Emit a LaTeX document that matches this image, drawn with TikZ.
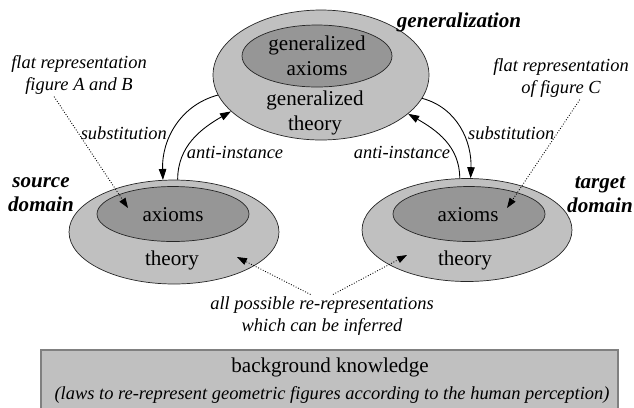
\documentclass[tikz,border=0pt]{standalone}
\usepackage{fontspec}
\setmainfont{Liberation Serif}
\usetikzlibrary{arrows.meta,shapes.geometric}
\definecolor{outergray}{RGB}{192,192,192}
\definecolor{innergray}{RGB}{150,150,150}
\definecolor{boxedge}{RGB}{128,128,128}

\begin{document}
\begin{tikzpicture}[x=0.02cm,y=-0.02cm,
  outer/.style={ellipse,draw=black!85,fill=outergray,line width=0.4pt,inner sep=0pt},
  inner/.style={ellipse,draw=black!85,fill=innergray,line width=0.4pt,inner sep=0pt},
  txt/.style={align=center,inner sep=1pt,font=\fontsize{12}{14.2}\selectfont},
  note/.style={align=center,inner sep=1pt,font=\fontsize{10.5}{12.6}\selectfont\itshape},
  areatitle/.style={align=center,inner sep=1pt,font=\fontsize{12}{13.7}\selectfont\bfseries\itshape},
  link/.style={-{Triangle[length=0.22cm,width=0.15cm]},line width=0.5pt},
  hint/.style={densely dotted,-{Triangle[length=0.2cm,width=0.14cm]},line width=0.5pt}]

  \useasboundingbox (0,0) rectangle (634,407);

  % generalization
  \node[outer,minimum width=4.32cm,minimum height=2.6cm] (gen) at (321,75) {};
  \node[inner,minimum width=3cm,minimum height=1.24cm] (genax) at (317,56) {};
  \node[txt] (genaxt) at (317,56) {generalized\\axioms};
  \node[txt] (genth) at (315,113) {generalized\\theory};
  \node[areatitle] (genlab) at (459,22) {generalization};

  % source domain
  \node[outer,minimum width=4.2cm,minimum height=2.08cm] (src) at (174,232) {};
  \node[inner,minimum width=3.04cm,minimum height=1.1cm] (srcax) at (173,214) {};
  \node[txt] (srcaxt) at (173,215) {axioms};
  \node[txt] (srcth) at (172,260) {theory};
  \node[areatitle] (srclab) at (41,195) {source\\domain};

  % target domain
  \node[outer,minimum width=4.2cm,minimum height=2.06cm] (tgt) at (467,230) {};
  \node[inner,minimum width=3.04cm,minimum height=1.1cm] (tgtax) at (469,214) {};
  \node[txt] (tgtaxt) at (468,215) {axioms};
  \node[txt] (tgtth) at (465,260) {theory};
  \node[areatitle] (tgtlab) at (600,195) {target\\domain};

  % substitution / anti-instance
  \draw[link] (gen.191.7) to[out=195,in=92] (src.102.5);
  \draw[link] (src.86.7) to[out=90,in=210] (gen.202.7);
  \draw[link] (gen.347) to[out=-15,in=88] (tgt.86);
  \draw[link] (tgt.98) to[out=90,in=-30] (gen.336.5);
  \node[note,anchor=east] (subl) at (169,133) {substitution};
  \node[note] (antl) at (235,152) {anti-instance};
  \node[note] (antr) at (402,152) {anti-instance};
  \node[note,anchor=west] (subr) at (466,133) {substitution};

  % flat representations
  \node[note] (fab) at (79,75) {flat representation\\figure A and B};
  \node[note] (fc) at (561,78) {flat representation\\of figure C};
  \coordinate (srctip) at (128,208);
  \coordinate (tgttip) at (507,208);
  \draw[hint] (fab.221) -- (srctip);
  \draw[hint] (fc.311) -- (tgttip);

  % re-representations
  \node[note] (inf) at (322,316) {all possible re-representations\\which can be inferred};
  \coordinate (srcthtip) at (237,257);
  \coordinate (tgtthtip) at (407,255);
  \draw[hint] (inf.118) -- (srcthtip);
  \draw[hint] (inf.63) -- (tgtthtip);

  % background knowledge
  \node[draw=boxedge,fill=outergray,line width=0.8pt,inner sep=0pt,
        minimum width=11.54cm,minimum height=1.32cm] (bk) at (329.5,383) {};
  \node[txt] (bkt) at (330,367) {background knowledge};
  \node[note] (bkl) at (332,395) {(laws to re-represent geometric figures according to the human perception)};
\end{tikzpicture}
\end{document}
